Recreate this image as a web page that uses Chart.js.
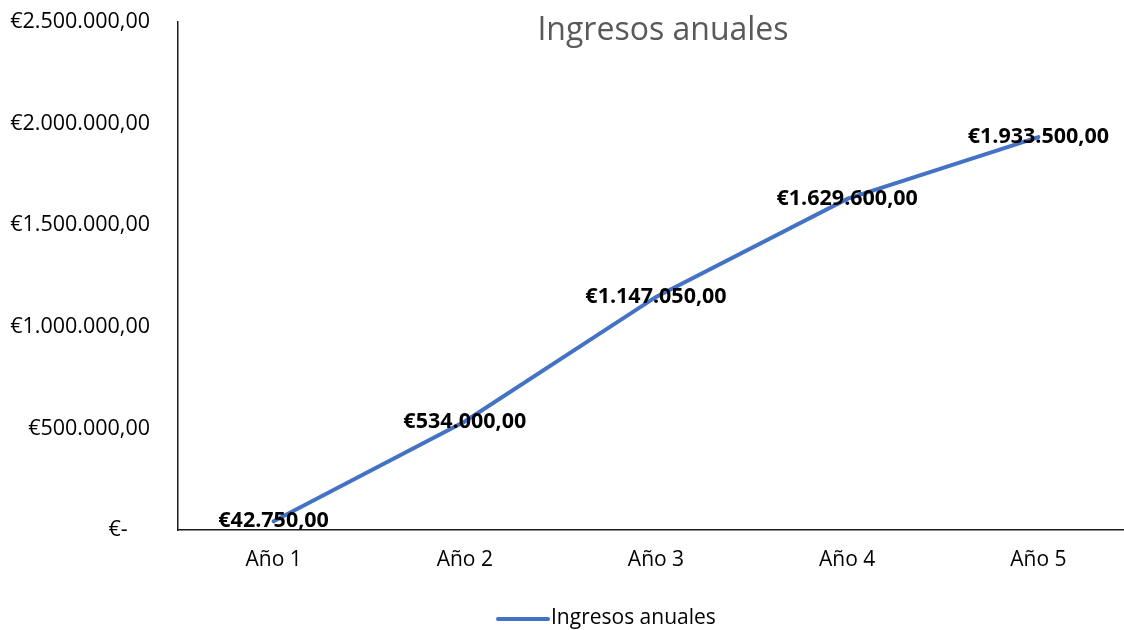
<!DOCTYPE html>
<html>
<head>
<meta charset="utf-8">
<script src="https://cdn.jsdelivr.net/npm/chart.js@4"></script>
<style>
  html, body { margin: 0; padding: 0; background: #fff; overflow: hidden; }
  #wrap { width: 1134px; height: 630px; position: relative; }
</style>
</head>
<body>
<div id="wrap"><canvas id="chart"></canvas></div>
<script>
// Ingresos anuales por año
const years = ['Año 1', 'Año 2', 'Año 3', 'Año 4', 'Año 5'];
const revenue = [42750, 534000, 1147050, 1629600, 1933500];
const yTicks = [0, 500000, 1000000, 1500000, 2000000, 2500000];

const FONT = '"Open Sans", "Noto Sans", sans-serif';
const LINE_COLOR = '#4472C4';

function euro(v) {
  const parts = v.toFixed(2).split('.');
  const intPart = parts[0].replace(/\B(?=(\d{3})+(?!\d))/g, '.');
  return '€' + intPart + ',' + parts[1];
}

// title, point labels and legend drawn on top
const extras = {
  id: 'extras',
  afterDatasetsDraw(chart) {
    const ctx = chart.ctx;
    const meta = chart.getDatasetMeta(0);
    ctx.save();
    ctx.font = 'bold 21.5px ' + FONT;
    ctx.fillStyle = '#000';
    ctx.textAlign = 'center';
    ctx.textBaseline = 'middle';
    meta.data.forEach((pt, i) => {
      ctx.fillText(euro(revenue[i]), pt.x, pt.y);
    });
    ctx.restore();
  },
  afterDraw(chart) {
    const ctx = chart.ctx;
    ctx.save();
    // title
    ctx.font = '32px ' + FONT;
    ctx.fillStyle = '#595959';
    ctx.textAlign = 'center';
    ctx.textBaseline = 'middle';
    ctx.fillText('Ingresos anuales', 663, 31);
    // legend
    const label = chart.data.datasets[0].label;
    ctx.strokeStyle = chart.data.datasets[0].borderColor;
    ctx.lineWidth = 4;
    ctx.lineCap = 'round';
    ctx.beginPath();
    ctx.moveTo(498, 619);
    ctx.lineTo(548, 619);
    ctx.stroke();
    ctx.font = '21px ' + FONT;
    ctx.fillStyle = '#000';
    ctx.textAlign = 'left';
    ctx.fillText(label, 551, 618);
    ctx.restore();
  }
};

new Chart(document.getElementById('chart'), {
  type: 'line',
  data: {
    labels: years,
    datasets: [{
      label: 'Ingresos anuales',
      data: revenue,
      borderColor: LINE_COLOR,
      backgroundColor: LINE_COLOR,
      borderWidth: 4,
      borderCapStyle: 'round',
      pointRadius: 0,
      tension: 0,
      fill: false
    }]
  },
  options: {
    responsive: true,
    maintainAspectRatio: false,
    animation: false,
    layout: { padding: { top: 22, right: 0, left: 0, bottom: 0 } },
    plugins: {
      legend: { display: false },
      title: { display: false },
      tooltip: { enabled: false }
    },
    scales: {
      x: {
        offset: true,
        grid: { display: false, drawTicks: false },
        border: { display: true, color: '#1a1a1a', width: 1.5 },
        ticks: { color: '#000', font: { family: FONT, size: 21 }, padding: 17 },
        afterFit(scale) { scale.height = 100; }
      },
      y: {
        min: 0,
        max: 2500000,
        grid: { display: false, drawTicks: false },
        border: { display: true, color: '#1a1a1a', width: 1.5 },
        afterBuildTicks(scale) { scale.ticks = yTicks.map(v => ({ value: v })); },
        ticks: {
          color: '#000',
          font: { family: FONT, size: 21.5 },
          padding: 28,
          callback: v => v === 0 ? '€-    ' : euro(v)
        },
        afterFit(scale) {
          scale.width = 178;
          scale.paddingTop = 0;
          scale.paddingBottom = 0;
        }
      }
    }
  },
  plugins: [extras]
});
</script>
</body>
</html>
